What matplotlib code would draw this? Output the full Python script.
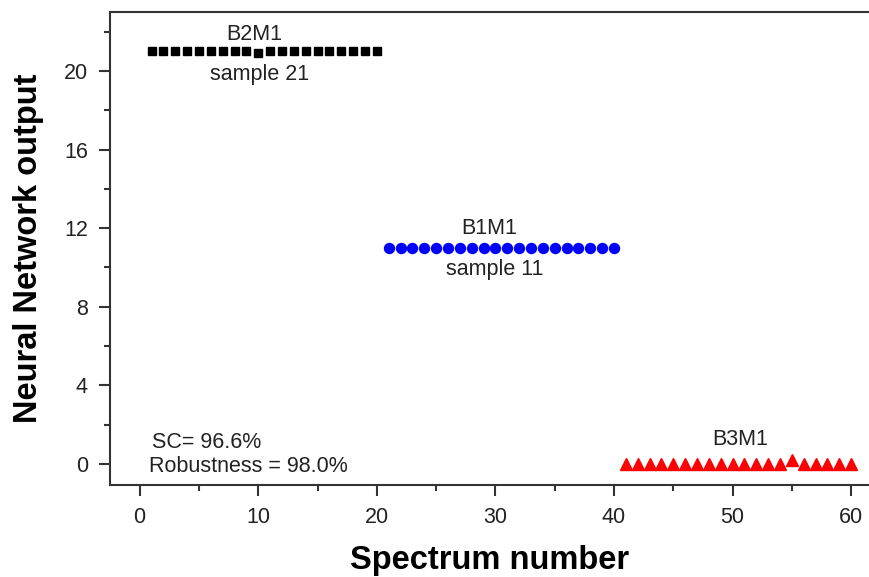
import numpy as np
import matplotlib.pyplot as plt
from matplotlib.ticker import MultipleLocator

plt.rcParams['font.family'] = ['Liberation Sans', 'DejaVu Sans']

# spectrum numbers and network outputs for each sample group
b2m1_x = list(range(1, 21))
b2m1_y = [21] * 9 + [20.9] + [21] * 10
b1m1_x = list(range(21, 41))
b1m1_y = [11] * 20
b3m1_x = list(range(41, 61))
b3m1_y = [0] * 14 + [0.2] + [0] * 5

fig = plt.figure(figsize=(8.69, 5.77), dpi=100)
ax = fig.add_axes([0.1266, 0.1594, 0.8734, 0.8198])

ax.plot(b2m1_x, b2m1_y, ls='none', marker='s', ms=5.8, color='black')
ax.plot(b1m1_x, b1m1_y, ls='none', marker='o', ms=7.2, color='#0000ff')
ax.plot(b3m1_x, b3m1_y, ls='none', marker='^', ms=8.5, color='#ff0000')

txt = '#222222'
fs = 15.5
ax.text(9.7, 21.85, 'B2M1', ha='center', va='center', fontsize=fs, color=txt)
ax.text(10.1, 19.8, 'sample 21', ha='center', va='center', fontsize=fs, color=txt)
ax.text(29.5, 12.0, 'B1M1', ha='center', va='center', fontsize=fs, color=txt)
ax.text(29.9, 9.9, 'sample 11', ha='center', va='center', fontsize=fs, color=txt)
ax.text(50.6, 1.27, 'B3M1', ha='center', va='center', fontsize=fs, color=txt)
ax.text(1.0, 1.1, 'SC= 96.6%', ha='left', va='center', fontsize=fs, color=txt)
ax.text(0.8, -0.15, 'Robustness = 98.0%', ha='left', va='center', fontsize=fs, color=txt)

ax.set_xlim(-2.5, 61.5)
ax.set_ylim(-1.07, 23.0)
ax.xaxis.set_major_locator(MultipleLocator(10))
ax.xaxis.set_minor_locator(MultipleLocator(5))
ax.yaxis.set_major_locator(MultipleLocator(4))
ax.yaxis.set_minor_locator(MultipleLocator(2))

spine_c = '#333333'
ax.spines['right'].set_visible(False)
for s in ['left', 'bottom', 'top']:
    ax.spines[s].set_linewidth(1.5)
    ax.spines[s].set_color(spine_c)
ax.tick_params(which='major', direction='out', length=8, width=1.5, color=spine_c,
               labelsize=15.5, labelcolor=txt, pad=8)
ax.tick_params(which='minor', direction='out', length=4, width=1.5, color=spine_c)

ax.set_xlabel('Spectrum number', fontsize=23.5, fontweight='bold', labelpad=12)
ax.set_ylabel('Neural Network output', fontsize=23.5, fontweight='bold', labelpad=14)

fig.savefig('out.png', dpi=100)
